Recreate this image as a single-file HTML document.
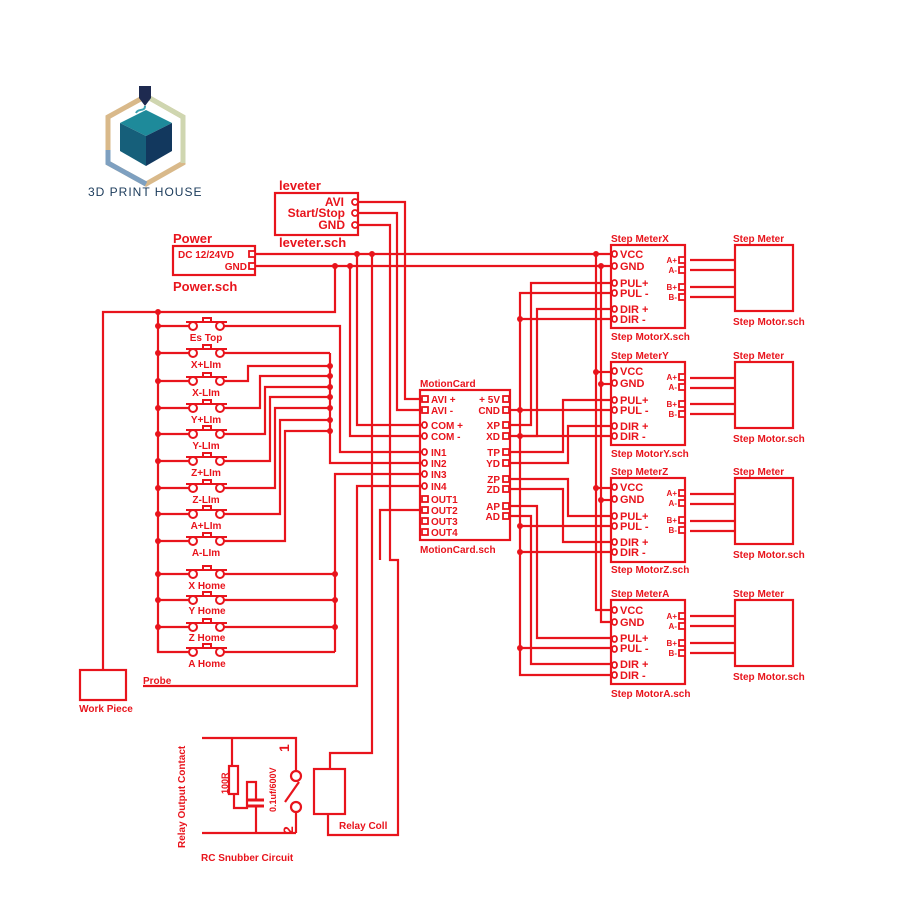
<!DOCTYPE html>
<html><head><meta charset="utf-8"><style>
html,body{margin:0;padding:0;background:#fff;}
svg{display:block}
text{font-family:"Liberation Sans",sans-serif;font-weight:bold;fill:#e8141c;}
</style></head><body>
<svg width="900" height="900" viewBox="0 0 900 900" xmlns="http://www.w3.org/2000/svg">
<!-- logo -->
<g>
<polygon points="146,96 183,117 183,163 146,184 108,163 108,117" fill="none" stroke="#d9b98a" stroke-width="5"/>
<polyline points="146,96 183,117 183,163" fill="none" stroke="#cfd6b0" stroke-width="5"/>
<polyline points="108,150 108,163 146,184" fill="none" stroke="#7ea0c0" stroke-width="5"/>
<rect x="139" y="86" width="12" height="12" fill="#1e2a50"/>
<polygon points="139,98 151,98 145,106" fill="#1e2a50"/>
<path d="M145,106 C145,112 138,108 136,113" stroke="#3aa0b0" stroke-width="2" fill="none"/>
<polygon points="146,110 172,123 146,136 120,123" fill="#1e8a9a"/>
<polygon points="120,123 146,136 146,166 120,151" fill="#165f7a"/>
<polygon points="172,123 146,136 146,166 172,151" fill="#12385e"/>
<text x="88" y="196" style="font-weight:normal;fill:#1a3a5a;font-size:12px;letter-spacing:1px">3D PRINT HOUSE</text>
</g>

<g stroke="#e8141c" stroke-width="2.2" fill="none">
<rect x="275" y="193" width="83" height="42"/>
<rect x="173" y="246" width="82" height="29"/>
<line x1="255" y1="254" x2="610" y2="254"/>
<line x1="255" y1="266" x2="610" y2="266"/>
<polyline points="358,202 405,202 405,399 422,399"/>
<polyline points="358,213 397,213 397,410 422,410"/>
<polyline points="358,225 390,225 390,560 398,560 398,835 328,835 328,814"/>
<polyline points="335,266 335,312 103,312 103,670"/>
<line x1="158" y1="312" x2="158" y2="652"/>
<polyline points="357,254 357,425 422,425"/>
<polyline points="350,266 350,436 422,436"/>
<polyline points="372,254 372,753 330,753 330,769"/>
<line x1="158" y1="326" x2="189" y2="326"/>
<line x1="158" y1="353" x2="189" y2="353"/>
<line x1="158" y1="381" x2="189" y2="381"/>
<line x1="158" y1="408" x2="189" y2="408"/>
<line x1="158" y1="434" x2="189" y2="434"/>
<line x1="158" y1="461" x2="189" y2="461"/>
<line x1="158" y1="488" x2="189" y2="488"/>
<line x1="158" y1="514" x2="189" y2="514"/>
<line x1="158" y1="541" x2="189" y2="541"/>
<line x1="158" y1="574" x2="189" y2="574"/>
<line x1="158" y1="600" x2="189" y2="600"/>
<line x1="158" y1="627" x2="189" y2="627"/>
<polyline points="158,640 158,652 189,652"/>
<polyline points="224,326 340,326 340,452 422,452"/>
<polyline points="224,353 330,353"/>
<polyline points="224,381 248,381 248,366 330,366"/>
<polyline points="224,408 260,408 260,376 330,376"/>
<polyline points="224,434 265,434 265,387 330,387"/>
<polyline points="224,461 270,461 270,397 330,397"/>
<polyline points="224,488 275,488 275,408 330,408"/>
<polyline points="224,514 280,514 280,420 330,420"/>
<polyline points="224,541 285,541 285,431 330,431"/>
<polyline points="330,353 330,463 422,463"/>
<line x1="224" y1="574" x2="335" y2="574"/>
<line x1="224" y1="600" x2="335" y2="600"/>
<line x1="224" y1="627" x2="335" y2="627"/>
<line x1="224" y1="652" x2="335" y2="652"/>
<polyline points="335,652 335,474 422,474"/>
<polyline points="143,686 357,686 357,486 422,486"/>
<rect x="80" y="670" width="46" height="30"/>
<polyline points="422,510 380,510 380,560"/>
<rect x="420" y="390" width="90" height="150"/>
<rect x="611" y="245" width="74" height="83"/>
<rect x="611" y="362" width="74" height="83"/>
<rect x="611" y="478" width="74" height="84"/>
<rect x="611" y="600" width="74" height="84"/>
<rect x="735" y="245" width="58" height="66"/>
<rect x="735" y="362" width="58" height="66"/>
<rect x="735" y="478" width="58" height="66"/>
<rect x="735" y="600" width="58" height="66"/>
<line x1="690" y1="260" x2="735" y2="260"/><line x1="690" y1="270" x2="735" y2="270"/>
<line x1="690" y1="287" x2="735" y2="287"/><line x1="690" y1="297" x2="735" y2="297"/>
<line x1="690" y1="378" x2="735" y2="378"/><line x1="690" y1="388" x2="735" y2="388"/>
<line x1="690" y1="404" x2="735" y2="404"/><line x1="690" y1="414" x2="735" y2="414"/>
<line x1="690" y1="494" x2="735" y2="494"/><line x1="690" y1="504" x2="735" y2="504"/>
<line x1="690" y1="521" x2="735" y2="521"/><line x1="690" y1="531" x2="735" y2="531"/>
<line x1="690" y1="616" x2="735" y2="616"/><line x1="690" y1="626" x2="735" y2="626"/>
<line x1="690" y1="643" x2="735" y2="643"/><line x1="690" y1="653" x2="735" y2="653"/>
<polyline points="596,254 596,610 611,610"/>
<polyline points="601,266 601,622 611,622"/>
<line x1="596" y1="372" x2="611" y2="372"/><line x1="601" y1="384" x2="611" y2="384"/>
<line x1="596" y1="488" x2="611" y2="488"/><line x1="601" y1="500" x2="611" y2="500"/>
<polyline points="510,410 520,410"/>
<polyline points="611,293 520,293 520,675 611,675"/>
<line x1="520" y1="319" x2="611" y2="319"/>
<line x1="520" y1="410" x2="611" y2="410"/>
<line x1="520" y1="436" x2="611" y2="436"/>
<line x1="520" y1="526" x2="611" y2="526"/>
<line x1="520" y1="552" x2="611" y2="552"/>
<line x1="520" y1="648" x2="611" y2="648"/>
<polyline points="510,425 531,425 531,283 611,283"/>
<polyline points="510,436 537,436 537,309 611,309"/>
<polyline points="510,452 563,452 563,400 611,400"/>
<polyline points="510,463 568,463 568,426 611,426"/>
<polyline points="510,479 568,479 568,516 611,516"/>
<polyline points="510,489 563,489 563,542 611,542"/>
<polyline points="510,506 537,506 537,638 611,638"/>
<polyline points="510,516 531,516 531,664 611,664"/>
<polyline points="202,738 296,738 296,770"/>
<polyline points="202,833 296,833"/>
<polyline points="232,738 232,766"/>
<rect x="229" y="766" width="9" height="28"/>
<polyline points="234,794 234,808 247,808 247,782 256,782 256,800"/>
<line x1="248" y1="800" x2="264" y2="800" stroke-width="3"/>
<line x1="248" y1="806" x2="264" y2="806" stroke-width="3"/>
<line x1="256" y1="806" x2="256" y2="833"/>
<circle cx="296" cy="776" r="5"/>
<circle cx="296" cy="807" r="5"/>
<line x1="285" y1="802" x2="299" y2="782"/>
<polyline points="296,812 296,833"/>
<rect x="314" y="769" width="31" height="45"/>
</g>

<g stroke="#e8141c" stroke-width="2" fill="#fff">
<g id="sw"><line x1="186" y1="322" x2="227" y2="322"/><rect x="203" y="318" width="8" height="4"/><circle cx="193" cy="326" r="4"/><circle cx="220" cy="326" r="4"/></g>
<use href="#sw" y="27"/><use href="#sw" y="55"/><use href="#sw" y="82"/><use href="#sw" y="108"/>
<use href="#sw" y="135"/><use href="#sw" y="162"/><use href="#sw" y="188"/><use href="#sw" y="215"/>
<use href="#sw" y="248"/><use href="#sw" y="274"/><use href="#sw" y="301"/><use href="#sw" y="326"/>
</g>

<g fill="#e8141c">
<circle cx="357" cy="254" r="3"/><circle cx="372" cy="254" r="3"/>
<circle cx="335" cy="266" r="3"/><circle cx="350" cy="266" r="3"/>
<circle cx="158" cy="312" r="3"/><circle cx="158" cy="326" r="3"/><circle cx="158" cy="353" r="3"/>
<circle cx="158" cy="381" r="3"/><circle cx="158" cy="408" r="3"/><circle cx="158" cy="434" r="3"/>
<circle cx="158" cy="461" r="3"/><circle cx="158" cy="488" r="3"/><circle cx="158" cy="514" r="3"/>
<circle cx="158" cy="541" r="3"/><circle cx="158" cy="574" r="3"/><circle cx="158" cy="600" r="3"/>
<circle cx="158" cy="627" r="3"/>
<circle cx="330" cy="366" r="3"/><circle cx="330" cy="376" r="3"/><circle cx="330" cy="387" r="3"/>
<circle cx="330" cy="397" r="3"/><circle cx="330" cy="408" r="3"/><circle cx="330" cy="420" r="3"/>
<circle cx="330" cy="431" r="3"/>
<circle cx="335" cy="574" r="3"/><circle cx="335" cy="600" r="3"/><circle cx="335" cy="627" r="3"/>
<circle cx="596" cy="254" r="3"/><circle cx="601" cy="266" r="3"/>
<circle cx="596" cy="372" r="3"/><circle cx="601" cy="384" r="3"/>
<circle cx="596" cy="488" r="3"/><circle cx="601" cy="500" r="3"/>
<circle cx="520" cy="319" r="3"/><circle cx="520" cy="410" r="3"/><circle cx="520" cy="436" r="3"/>
<circle cx="520" cy="526" r="3"/><circle cx="520" cy="552" r="3"/><circle cx="520" cy="648" r="3"/>
</g>

<g stroke="#e8141c" stroke-width="1.8" fill="#fff">
<rect x="352" y="199" width="6" height="6" rx="3"/><rect x="352" y="210" width="6" height="6" rx="3"/><rect x="352" y="222" width="6" height="6" rx="3"/>
<rect x="249" y="251" width="6" height="6"/><rect x="249" y="263" width="6" height="6"/>
<rect x="422" y="396" width="6" height="6"/><rect x="422" y="407" width="6" height="6"/>
<rect x="422" y="422" width="5" height="6" rx="3"/><rect x="422" y="433" width="5" height="6" rx="3"/>
<rect x="422" y="449" width="5" height="6" rx="3"/><rect x="422" y="460" width="5" height="6" rx="3"/>
<rect x="422" y="471" width="5" height="6" rx="3"/><rect x="422" y="483" width="5" height="6" rx="3"/>
<rect x="422" y="496" width="6" height="6"/><rect x="422" y="507" width="6" height="6"/>
<rect x="422" y="518" width="6" height="6"/><rect x="422" y="529" width="6" height="6"/>
<rect x="503" y="396" width="6" height="6"/><rect x="503" y="407" width="6" height="6"/>
<rect x="503" y="422" width="6" height="6"/><rect x="503" y="433" width="6" height="6"/>
<rect x="503" y="449" width="6" height="6"/><rect x="503" y="460" width="6" height="6"/>
<rect x="503" y="476" width="6" height="6"/><rect x="503" y="486" width="6" height="6"/>
<rect x="503" y="503" width="6" height="6"/><rect x="503" y="513" width="6" height="6"/>
</g>
<g stroke="#e8141c" stroke-width="1.8" fill="#fff" id="drvpins">
<rect x="612" y="251" width="5" height="6" rx="3"/><rect x="612" y="263" width="5" height="6" rx="3"/>
<rect x="612" y="280" width="5" height="6" rx="3"/><rect x="612" y="290" width="5" height="6" rx="3"/>
<rect x="612" y="306" width="5" height="6" rx="3"/><rect x="612" y="316" width="5" height="6" rx="3"/>
<rect x="679" y="257" width="6" height="6"/><rect x="679" y="267" width="6" height="6"/>
<rect x="679" y="284" width="6" height="6"/><rect x="679" y="294" width="6" height="6"/>
</g>
<use href="#drvpins" y="117"/><use href="#drvpins" y="233"/><use href="#drvpins" y="356"/>

<g font-size="12">
<text x="279" y="190" font-size="13">leveter</text>
<text x="344" y="206" text-anchor="end">AVI</text>
<text x="345" y="217" text-anchor="end">Start/Stop</text>
<text x="345" y="229" text-anchor="end">GND</text>
<text x="279" y="247" font-size="13">leveter.sch</text>
<text x="173" y="243" font-size="13">Power</text>
<text x="178" y="258" font-size="10">DC 12/24VD</text>
<text x="247" y="270" text-anchor="end" font-size="10">GND</text>
<text x="173" y="291" font-size="13">Power.sch</text>
</g>
<g font-size="10" text-anchor="middle">
<text x="206" y="341">Es Top</text><text x="206" y="368">X+LIm</text><text x="206" y="396">X-LIm</text>
<text x="206" y="423">Y+LIm</text><text x="206" y="449">Y-LIm</text><text x="206" y="476">Z+LIm</text>
<text x="206" y="503">Z-LIm</text><text x="206" y="529">A+LIm</text><text x="206" y="556">A-LIm</text>
<text x="207" y="589">X Home</text><text x="207" y="614">Y Home</text><text x="207" y="641">Z Home</text>
<text x="207" y="667">A Home</text>
<text x="106" y="712">Work Piece</text>
</g>
<text x="143" y="684" font-size="10">Probe</text>
<g font-size="10">
<text x="420" y="387">MotionCard</text>
<text x="431" y="403">AVI +</text><text x="431" y="414">AVI -</text>
<text x="431" y="429">COM +</text><text x="431" y="440">COM -</text>
<text x="431" y="456">IN1</text><text x="431" y="467">IN2</text><text x="431" y="478">IN3</text><text x="431" y="490">IN4</text>
<text x="431" y="503">OUT1</text><text x="431" y="514">OUT2</text><text x="431" y="525">OUT3</text><text x="431" y="536">OUT4</text>
<g text-anchor="end">
<text x="500" y="403">+ 5V</text><text x="500" y="414">CND</text><text x="500" y="429">XP</text><text x="500" y="440">XD</text>
<text x="500" y="456">TP</text><text x="500" y="467">YD</text><text x="500" y="483">ZP</text><text x="500" y="493">ZD</text>
<text x="500" y="510">AP</text><text x="500" y="520">AD</text>
</g>
<text x="420" y="553">MotionCard.sch</text>
</g>
<g font-size="11">
<text x="611" y="242" font-size="10">Step MeterX</text>
<text x="620" y="258">VCC</text><text x="620" y="270">GND</text>
<text x="620" y="287">PUL+</text><text x="620" y="297">PUL -</text>
<text x="620" y="313">DIR +</text><text x="620" y="323">DIR -</text>
<text x="677" y="263" text-anchor="end" font-size="8">A+</text><text x="677" y="273" text-anchor="end" font-size="8">A-</text>
<text x="677" y="290" text-anchor="end" font-size="8">B+</text><text x="677" y="300" text-anchor="end" font-size="8">B-</text>
<text x="611" y="340" font-size="10">Step MotorX.sch</text>
<text x="733" y="242" font-size="10">Step Meter</text>
<text x="733" y="325" font-size="10">Step Motor.sch</text>

<text x="611" y="359" font-size="10">Step MeterY</text>
<text x="620" y="375">VCC</text><text x="620" y="387">GND</text>
<text x="620" y="404">PUL+</text><text x="620" y="414">PUL -</text>
<text x="620" y="430">DIR +</text><text x="620" y="440">DIR -</text>
<text x="677" y="380" text-anchor="end" font-size="8">A+</text><text x="677" y="390" text-anchor="end" font-size="8">A-</text>
<text x="677" y="407" text-anchor="end" font-size="8">B+</text><text x="677" y="417" text-anchor="end" font-size="8">B-</text>
<text x="611" y="457" font-size="10">Step MotorY.sch</text>
<text x="733" y="359" font-size="10">Step Meter</text><text x="733" y="442" font-size="10">Step Motor.sch</text>

<text x="611" y="475" font-size="10">Step MeterZ</text>
<text x="620" y="491">VCC</text><text x="620" y="503">GND</text>
<text x="620" y="520">PUL+</text><text x="620" y="530">PUL -</text>
<text x="620" y="546">DIR +</text><text x="620" y="556">DIR -</text>
<text x="677" y="496" text-anchor="end" font-size="8">A+</text><text x="677" y="506" text-anchor="end" font-size="8">A-</text>
<text x="677" y="523" text-anchor="end" font-size="8">B+</text><text x="677" y="533" text-anchor="end" font-size="8">B-</text>
<text x="611" y="573" font-size="10">Step MotorZ.sch</text>
<text x="733" y="475" font-size="10">Step Meter</text><text x="733" y="558" font-size="10">Step Motor.sch</text>

<text x="611" y="597" font-size="10">Step MeterA</text>
<text x="620" y="614">VCC</text><text x="620" y="626">GND</text>
<text x="620" y="642">PUL+</text><text x="620" y="652">PUL -</text>
<text x="620" y="668">DIR +</text><text x="620" y="679">DIR -</text>
<text x="677" y="619" text-anchor="end" font-size="8">A+</text><text x="677" y="629" text-anchor="end" font-size="8">A-</text>
<text x="677" y="646" text-anchor="end" font-size="8">B+</text><text x="677" y="656" text-anchor="end" font-size="8">B-</text>
<text x="611" y="697" font-size="10">Step MotorA.sch</text>
<text x="733" y="597" font-size="10">Step Meter</text><text x="733" y="680" font-size="10">Step Motor.sch</text>
</g>
<text x="201" y="861" font-size="10">RC Snubber Circuit</text>
<text x="339" y="829" font-size="10">Relay Coll</text>
<text transform="translate(185,848) rotate(-90)" font-size="10">Relay Output Contact</text>
<text transform="translate(228,794) rotate(-90)" font-size="9">100R</text>
<text transform="translate(276,812) rotate(-90)" font-size="9">0.1uf/600V</text>
<text transform="translate(289,752) rotate(-90)" font-size="14">1</text>
<text transform="translate(293,834) rotate(-90)" font-size="14">2</text>
</svg>
</body></html>
